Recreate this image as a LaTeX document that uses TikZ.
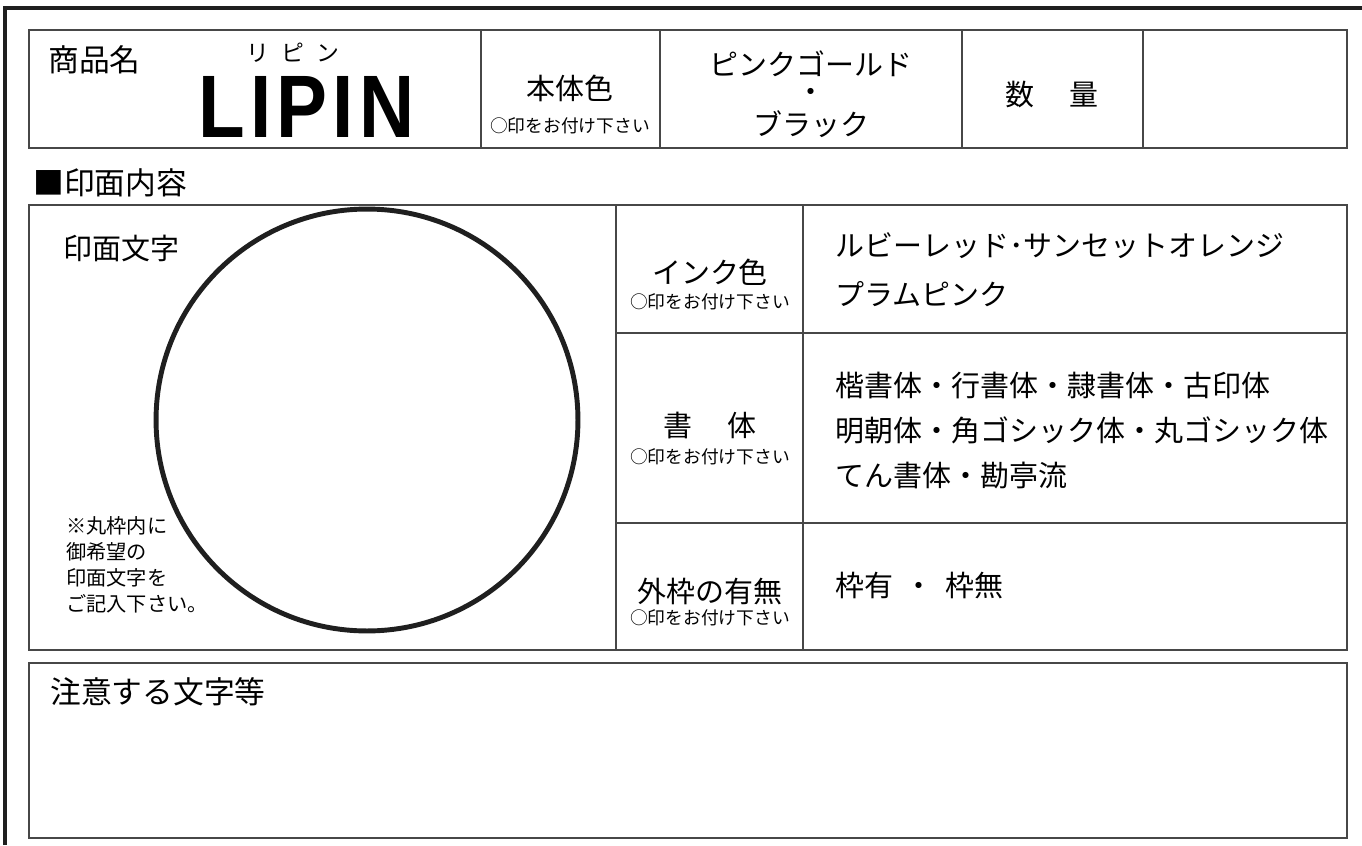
\documentclass[tikz,border=0pt]{standalone}
\usepackage{fontspec}
\setmainfont{Noto Sans CJK JP}
\newfontfamily\logofont[LetterSpace=7]{Liberation Sans}
\usepackage{tikz}
\usetikzlibrary{positioning}
\tikzset{
    FR/.style = {draw=black!88, line width=2.8pt}, % outer frame of the sheet
    RL/.style = {draw=black!72, line width=0.9pt}, % table rules
    RG/.style = {draw=black!88, line width=2.8pt}, % round stamp outline
    TX/.style = {inner sep=0pt, font=\fontsize{16.5}{20}\selectfont},
    HD/.style = {inner sep=0pt, font=\fontsize{17.5}{21}\selectfont},
    SM/.style = {inner sep=0pt, font=\fontsize{10.1}{12}\selectfont},
    HN/.style = {inner sep=0pt, align=left, font=\fontsize{11.5}{14.8}\selectfont}
}
\begin{document}
\begin{tikzpicture}[x=0.02cm, y=-0.02cm]
  \useasboundingbox (0,0) rectangle (1362,845);
  % frame
  \draw[FR] (5,845) -- (5,8) -- (1362,8);
  % product row
  \draw[RL] (29,30) rectangle (1347,148);
  \foreach \x in {481,660,962,1143}
    \draw[RL] (\x,30) -- (\x,148);
  % stamp table
  \draw[RL] (29,205) rectangle (1347,650);
  \draw[RL] (616,205) -- (616,650);
  \draw[RL] (803,205) -- (803,650);
  \draw[RL] (616,333) -- (1347,333);
  \draw[RL] (616,523) -- (1347,523);
  % remarks box
  \draw[RL] (29,663) rectangle (1347,838);
  % stamp circle
  \draw[RG] (367,420) circle [radius=4.22cm];

  \node[HD, anchor=west] (shohin) at (48,60) {商品名};
  \node[inner sep=0pt, font=\fontsize{13}{15}\selectfont] (yomi) at (293,53) {リ\hspace{0.55em}ピ\hspace{0.55em}ン};
  \node[inner sep=0pt, anchor=base west, xscale=0.86, font=\logofont\bfseries\fontsize{50.5}{52}\selectfont] (lipin) at (198,137) {LIPIN};
  \node[TX] (hontai) at (570,88) {本体色};
  \node[SM] (hontaiM) at (570,126) {○印をお付け下さい};
  \node[TX] (gold) at (811,64) {ピンクゴールド};
  \node[TX] (naka) at (811,95) {・};
  \node[TX] (black) at (811,124) {ブラック};
  \node[TX] (suryo) at (1052,95) {数\hspace{1.2em}量};

  \node[HD, anchor=west] (naiyo) at (33,183) {■印面内容};

  \node[TX, anchor=west] (moji) at (63,248) {印面文字};
  \node[HN, anchor=north west] (hint) at (66,516) {※丸枠内に\\御希望の\\印面文字を\\ご記入下さい。};

  \node[TX] (ink) at (710,272) {インク色};
  \node[SM] (inkM) at (710,302) {○印をお付け下さい};
  \node[TX] (shotai) at (710,425) {書\hspace{1.2em}体};
  \node[SM] (shotaiM) at (710,457) {○印をお付け下さい};
  \node[TX] (waku) at (710,591) {外枠の有無};
  \node[SM] (wakuM) at (710,618) {○印をお付け下さい};

  \node[TX, anchor=west] (inkA) at (835,246) {ルビーレッド･サンセットオレンジ};
  \node[TX, anchor=west] (inkB) at (835,294) {プラムピンク};
  \node[TX, anchor=west] (shoA) at (835,385) {楷書体・行書体・隷書体・古印体};
  \node[TX, anchor=west] (shoB) at (835,430) {明朝体・角ゴシック体・丸ゴシック体};
  \node[TX, anchor=west] (shoC) at (835,475) {てん書体・勘亭流};
  \node[TX, anchor=west] (wakuA) at (835,586) {枠有\hspace{0.4em}・\hspace{0.4em}枠無};

  \node[HD, anchor=west] (chui) at (50,692) {注意する文字等};
\end{tikzpicture}
\end{document}
